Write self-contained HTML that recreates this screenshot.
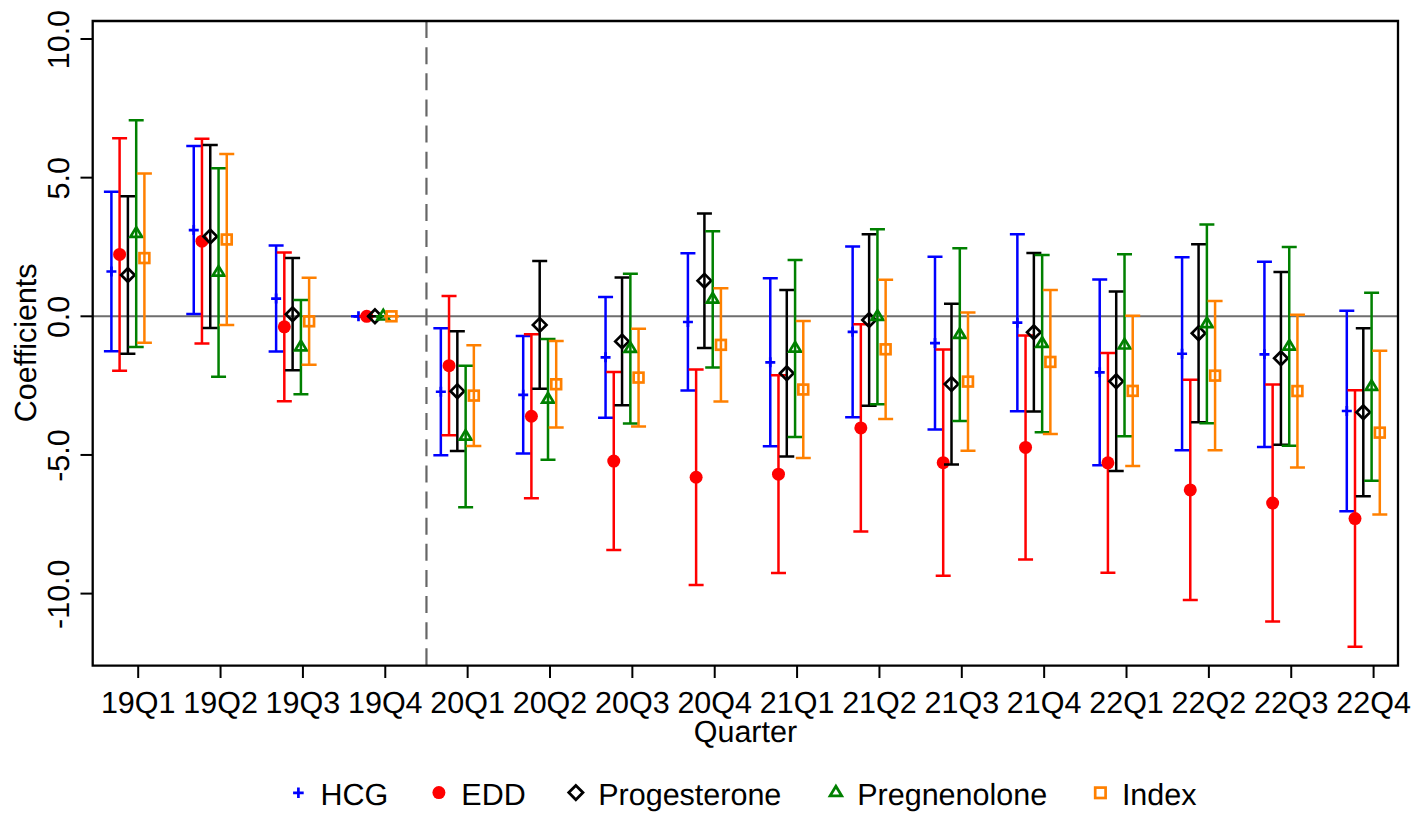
<!DOCTYPE html>
<html><head><meta charset="utf-8"><style>
html,body{margin:0;padding:0;background:#fff;}
svg{display:block;}
.t{font-family:"Liberation Sans",sans-serif;font-size:30.5px;fill:#000;text-rendering:geometricPrecision;}
</style></head><body>
<svg width="1417" height="822" viewBox="0 0 1417 822">
<rect width="1417" height="822" fill="#fff"/>
<line x1="92.7" y1="316.3" x2="1398.0" y2="316.3" stroke="#6e6e6e" stroke-width="2.1"/>
<line x1="426.46" y1="21.0" x2="426.46" y2="665.7" stroke="#666" stroke-width="2.2" stroke-dasharray="17 9.14"/>
<path d="M111.4 191.79V351.24M103.9 191.79H118.9M103.9 351.24H118.9" stroke="#0000ff" stroke-width="2.5" fill="none"/>
<path d="M193.76 146.04V314.08M186.26 146.04H201.26M186.26 314.08H201.26" stroke="#0000ff" stroke-width="2.5" fill="none"/>
<path d="M276.12 245.59V351.52M268.62 245.59H283.62M268.62 351.52H283.62" stroke="#0000ff" stroke-width="2.5" fill="none"/>
<path d="M350.98 316.3H365.98" stroke="#0000ff" stroke-width="2.5" fill="none"/>
<path d="M440.84 328.22V455.23M433.34 328.22H448.34M433.34 455.23H448.34" stroke="#0000ff" stroke-width="2.5" fill="none"/>
<path d="M523.2 335.99V453.56M515.7 335.99H530.7M515.7 453.56H530.7" stroke="#0000ff" stroke-width="2.5" fill="none"/>
<path d="M605.56 296.89V417.79M598.06 296.89H613.06M598.06 417.79H613.06" stroke="#0000ff" stroke-width="2.5" fill="none"/>
<path d="M687.92 253.35V390.62M680.42 253.35H695.42M680.42 390.62H695.42" stroke="#0000ff" stroke-width="2.5" fill="none"/>
<path d="M770.28 278.31V446.35M762.78 278.31H777.78M762.78 446.35H777.78" stroke="#0000ff" stroke-width="2.5" fill="none"/>
<path d="M852.64 246.42V417.24M845.14 246.42H860.14M845.14 417.24H860.14" stroke="#0000ff" stroke-width="2.5" fill="none"/>
<path d="M935 256.68V429.44M927.5 256.68H942.5M927.5 429.44H942.5" stroke="#0000ff" stroke-width="2.5" fill="none"/>
<path d="M1017.36 234.22V411.14M1009.86 234.22H1024.86M1009.86 411.14H1024.86" stroke="#0000ff" stroke-width="2.5" fill="none"/>
<path d="M1099.72 279.42V465.21M1092.22 279.42H1107.22M1092.22 465.21H1107.22" stroke="#0000ff" stroke-width="2.5" fill="none"/>
<path d="M1182.08 257.24V450.24M1174.58 257.24H1189.58M1174.58 450.24H1189.58" stroke="#0000ff" stroke-width="2.5" fill="none"/>
<path d="M1264.44 261.67V446.91M1256.94 261.67H1271.94M1256.94 446.91H1271.94" stroke="#0000ff" stroke-width="2.5" fill="none"/>
<path d="M1346.8 310.75V511.24M1339.3 310.75H1354.3M1339.3 511.24H1354.3" stroke="#0000ff" stroke-width="2.5" fill="none"/>
<path d="M106.4 271.52H116.4M111.4 266.52V276.52" stroke="#0000ff" stroke-width="2.7" fill="none"/>
<path d="M188.76 230.06H198.76M193.76 225.06V235.06" stroke="#0000ff" stroke-width="2.7" fill="none"/>
<path d="M271.12 298.55H281.12M276.12 293.55V303.55" stroke="#0000ff" stroke-width="2.7" fill="none"/>
<path d="M353.48 316.3H363.48M358.48 311.3V321.3" stroke="#0000ff" stroke-width="2.7" fill="none"/>
<path d="M435.84 391.73H445.84M440.84 386.73V396.73" stroke="#0000ff" stroke-width="2.7" fill="none"/>
<path d="M518.2 394.78H528.2M523.2 389.78V399.78" stroke="#0000ff" stroke-width="2.7" fill="none"/>
<path d="M600.56 357.34H610.56M605.56 352.34V362.34" stroke="#0000ff" stroke-width="2.7" fill="none"/>
<path d="M682.92 321.98H692.92M687.92 316.98V326.98" stroke="#0000ff" stroke-width="2.7" fill="none"/>
<path d="M765.28 362.33H775.28M770.28 357.33V367.33" stroke="#0000ff" stroke-width="2.7" fill="none"/>
<path d="M847.64 331.83H857.64M852.64 326.83V336.83" stroke="#0000ff" stroke-width="2.7" fill="none"/>
<path d="M930 343.06H940M935 338.06V348.06" stroke="#0000ff" stroke-width="2.7" fill="none"/>
<path d="M1012.36 322.68H1022.36M1017.36 317.68V327.68" stroke="#0000ff" stroke-width="2.7" fill="none"/>
<path d="M1094.72 372.31H1104.72M1099.72 367.31V377.31" stroke="#0000ff" stroke-width="2.7" fill="none"/>
<path d="M1177.08 353.74H1187.08M1182.08 348.74V358.74" stroke="#0000ff" stroke-width="2.7" fill="none"/>
<path d="M1259.44 354.29H1269.44M1264.44 349.29V359.29" stroke="#0000ff" stroke-width="2.7" fill="none"/>
<path d="M1341.8 411H1351.8M1346.8 406V416" stroke="#0000ff" stroke-width="2.7" fill="none"/>
<path d="M119.6 138.27V370.65M112.1 138.27H127.1M112.1 370.65H127.1" stroke="#ff0000" stroke-width="2.5" fill="none"/>
<path d="M201.96 138.83V343.48M194.46 138.83H209.46M194.46 343.48H209.46" stroke="#ff0000" stroke-width="2.5" fill="none"/>
<path d="M284.32 252.52V401.15M276.82 252.52H291.82M276.82 401.15H291.82" stroke="#ff0000" stroke-width="2.5" fill="none"/>
<path d="M359.18 316.3H374.18" stroke="#ff0000" stroke-width="2.5" fill="none"/>
<path d="M449.04 296.06V435.26M441.54 296.06H456.54M441.54 435.26H456.54" stroke="#ff0000" stroke-width="2.5" fill="none"/>
<path d="M531.4 334.32V498.21M523.9 334.32H538.9M523.9 498.21H538.9" stroke="#ff0000" stroke-width="2.5" fill="none"/>
<path d="M613.76 372.04V550.06M606.26 372.04H621.26M606.26 550.06H621.26" stroke="#ff0000" stroke-width="2.5" fill="none"/>
<path d="M696.12 369.54V585M688.62 369.54H703.62M688.62 585H703.62" stroke="#ff0000" stroke-width="2.5" fill="none"/>
<path d="M778.48 375.36V573.08M770.98 375.36H785.98M770.98 573.08H785.98" stroke="#ff0000" stroke-width="2.5" fill="none"/>
<path d="M860.84 324.34V531.48M853.34 324.34H868.34M853.34 531.48H868.34" stroke="#ff0000" stroke-width="2.5" fill="none"/>
<path d="M943.2 349.58V575.85M935.7 349.58H950.7M935.7 575.85H950.7" stroke="#ff0000" stroke-width="2.5" fill="none"/>
<path d="M1025.56 335.43V559.49M1018.06 335.43H1033.06M1018.06 559.49H1033.06" stroke="#ff0000" stroke-width="2.5" fill="none"/>
<path d="M1107.92 352.9V572.8M1100.42 352.9H1115.42M1100.42 572.8H1115.42" stroke="#ff0000" stroke-width="2.5" fill="none"/>
<path d="M1190.28 379.8V599.98M1182.78 379.8H1197.78M1182.78 599.98H1197.78" stroke="#ff0000" stroke-width="2.5" fill="none"/>
<path d="M1272.64 384.52V621.61M1265.14 384.52H1280.14M1265.14 621.61H1280.14" stroke="#ff0000" stroke-width="2.5" fill="none"/>
<path d="M1355 390.34V646.84M1347.5 390.34H1362.5M1347.5 646.84H1362.5" stroke="#ff0000" stroke-width="2.5" fill="none"/>
<circle cx="119.6" cy="254.46" r="6.5" fill="#ff0000"/>
<circle cx="201.96" cy="241.15" r="6.5" fill="#ff0000"/>
<circle cx="284.32" cy="326.84" r="6.5" fill="#ff0000"/>
<circle cx="366.68" cy="316.3" r="6.5" fill="#ff0000"/>
<circle cx="449.04" cy="365.66" r="6.5" fill="#ff0000"/>
<circle cx="531.4" cy="416.27" r="6.5" fill="#ff0000"/>
<circle cx="613.76" cy="461.05" r="6.5" fill="#ff0000"/>
<circle cx="696.12" cy="477.27" r="6.5" fill="#ff0000"/>
<circle cx="778.48" cy="474.22" r="6.5" fill="#ff0000"/>
<circle cx="860.84" cy="427.91" r="6.5" fill="#ff0000"/>
<circle cx="943.2" cy="462.71" r="6.5" fill="#ff0000"/>
<circle cx="1025.56" cy="447.46" r="6.5" fill="#ff0000"/>
<circle cx="1107.92" cy="462.85" r="6.5" fill="#ff0000"/>
<circle cx="1190.28" cy="489.89" r="6.5" fill="#ff0000"/>
<circle cx="1272.64" cy="503.06" r="6.5" fill="#ff0000"/>
<circle cx="1355" cy="518.59" r="6.5" fill="#ff0000"/>
<path d="M127.9 196.23V353.74M120.4 196.23H135.4M120.4 353.74H135.4" stroke="#000000" stroke-width="2.5" fill="none"/>
<path d="M210.26 144.93V327.95M202.76 144.93H217.76M202.76 327.95H217.76" stroke="#000000" stroke-width="2.5" fill="none"/>
<path d="M292.62 258.07V370.37M285.12 258.07H300.12M285.12 370.37H300.12" stroke="#000000" stroke-width="2.5" fill="none"/>
<path d="M367.48 316.3H382.48" stroke="#000000" stroke-width="2.5" fill="none"/>
<path d="M457.34 331.27V451.07M449.84 331.27H464.84M449.84 451.07H464.84" stroke="#000000" stroke-width="2.5" fill="none"/>
<path d="M539.7 261.12V388.68M532.2 261.12H547.2M532.2 388.68H547.2" stroke="#000000" stroke-width="2.5" fill="none"/>
<path d="M622.06 277.48V405.31M614.56 277.48H629.56M614.56 405.31H629.56" stroke="#000000" stroke-width="2.5" fill="none"/>
<path d="M704.42 213.42V347.91M696.92 213.42H711.92M696.92 347.91H711.92" stroke="#000000" stroke-width="2.5" fill="none"/>
<path d="M786.78 289.96V456.61M779.28 289.96H794.28M779.28 456.61H794.28" stroke="#000000" stroke-width="2.5" fill="none"/>
<path d="M869.14 234.22V405.87M861.64 234.22H876.64M861.64 405.87H876.64" stroke="#000000" stroke-width="2.5" fill="none"/>
<path d="M951.5 303.82V464.38M944 303.82H959M944 464.38H959" stroke="#000000" stroke-width="2.5" fill="none"/>
<path d="M1033.86 253.08V411.41M1026.36 253.08H1041.36M1026.36 411.41H1041.36" stroke="#000000" stroke-width="2.5" fill="none"/>
<path d="M1116.22 291.62V471.03M1108.72 291.62H1123.72M1108.72 471.03H1123.72" stroke="#000000" stroke-width="2.5" fill="none"/>
<path d="M1198.58 244.2V422.23M1191.08 244.2H1206.08M1191.08 422.23H1206.08" stroke="#000000" stroke-width="2.5" fill="none"/>
<path d="M1280.94 271.93V444.69M1273.44 271.93H1288.44M1273.44 444.69H1288.44" stroke="#000000" stroke-width="2.5" fill="none"/>
<path d="M1363.3 328.22V496.27M1355.8 328.22H1370.8M1355.8 496.27H1370.8" stroke="#000000" stroke-width="2.5" fill="none"/>
<path d="M127.9 268.18L134.7 274.98L127.9 281.78L121.1 274.98Z" stroke="#000000" stroke-width="2.7" fill="none" stroke-linejoin="miter"/>
<path d="M210.26 229.64L217.06 236.44L210.26 243.24L203.46 236.44Z" stroke="#000000" stroke-width="2.7" fill="none" stroke-linejoin="miter"/>
<path d="M292.62 307.42L299.42 314.22L292.62 321.02L285.82 314.22Z" stroke="#000000" stroke-width="2.7" fill="none" stroke-linejoin="miter"/>
<path d="M374.98 309.5L381.78 316.3L374.98 323.1L368.18 316.3Z" stroke="#000000" stroke-width="2.7" fill="none" stroke-linejoin="miter"/>
<path d="M457.34 384.37L464.14 391.17L457.34 397.97L450.54 391.17Z" stroke="#000000" stroke-width="2.7" fill="none" stroke-linejoin="miter"/>
<path d="M539.7 318.1L546.5 324.9L539.7 331.7L532.9 324.9Z" stroke="#000000" stroke-width="2.7" fill="none" stroke-linejoin="miter"/>
<path d="M622.06 334.6L628.86 341.4L622.06 348.2L615.26 341.4Z" stroke="#000000" stroke-width="2.7" fill="none" stroke-linejoin="miter"/>
<path d="M704.42 273.87L711.22 280.67L704.42 287.47L697.62 280.67Z" stroke="#000000" stroke-width="2.7" fill="none" stroke-linejoin="miter"/>
<path d="M786.78 366.49L793.58 373.29L786.78 380.09L779.98 373.29Z" stroke="#000000" stroke-width="2.7" fill="none" stroke-linejoin="miter"/>
<path d="M869.14 313.24L875.94 320.04L869.14 326.84L862.34 320.04Z" stroke="#000000" stroke-width="2.7" fill="none" stroke-linejoin="miter"/>
<path d="M951.5 377.3L958.3 384.1L951.5 390.9L944.7 384.1Z" stroke="#000000" stroke-width="2.7" fill="none" stroke-linejoin="miter"/>
<path d="M1033.86 325.44L1040.66 332.24L1033.86 339.04L1027.06 332.24Z" stroke="#000000" stroke-width="2.7" fill="none" stroke-linejoin="miter"/>
<path d="M1116.22 374.53L1123.02 381.33L1116.22 388.13L1109.42 381.33Z" stroke="#000000" stroke-width="2.7" fill="none" stroke-linejoin="miter"/>
<path d="M1198.58 326.42L1205.38 333.22L1198.58 340.02L1191.78 333.22Z" stroke="#000000" stroke-width="2.7" fill="none" stroke-linejoin="miter"/>
<path d="M1280.94 351.51L1287.74 358.31L1280.94 365.11L1274.14 358.31Z" stroke="#000000" stroke-width="2.7" fill="none" stroke-linejoin="miter"/>
<path d="M1363.3 405.45L1370.1 412.25L1363.3 419.05L1356.5 412.25Z" stroke="#000000" stroke-width="2.7" fill="none" stroke-linejoin="miter"/>
<path d="M136.2 120.25V347.08M128.7 120.25H143.7M128.7 347.08H143.7" stroke="#008000" stroke-width="2.5" fill="none"/>
<path d="M218.56 168.22V376.75M211.06 168.22H226.06M211.06 376.75H226.06" stroke="#008000" stroke-width="2.5" fill="none"/>
<path d="M300.92 299.94V394.22M293.42 299.94H308.42M293.42 394.22H308.42" stroke="#008000" stroke-width="2.5" fill="none"/>
<path d="M375.78 316.3H390.78" stroke="#008000" stroke-width="2.5" fill="none"/>
<path d="M465.64 365.66V507.36M458.14 365.66H473.14M458.14 507.36H473.14" stroke="#008000" stroke-width="2.5" fill="none"/>
<path d="M548 339.04V459.66M540.5 339.04H555.5M540.5 459.66H555.5" stroke="#008000" stroke-width="2.5" fill="none"/>
<path d="M630.36 273.87V423.62M622.86 273.87H637.86M622.86 423.62H637.86" stroke="#008000" stroke-width="2.5" fill="none"/>
<path d="M712.72 231.17V367.6M705.22 231.17H720.22M705.22 367.6H720.22" stroke="#008000" stroke-width="2.5" fill="none"/>
<path d="M795.08 260.01V436.93M787.58 260.01H802.58M787.58 436.93H802.58" stroke="#008000" stroke-width="2.5" fill="none"/>
<path d="M877.44 229.23V404.2M869.94 229.23H884.94M869.94 404.2H884.94" stroke="#008000" stroke-width="2.5" fill="none"/>
<path d="M959.8 248.36V421.12M952.3 248.36H967.3M952.3 421.12H967.3" stroke="#008000" stroke-width="2.5" fill="none"/>
<path d="M1042.16 255.02V432.21M1034.66 255.02H1049.66M1034.66 432.21H1049.66" stroke="#008000" stroke-width="2.5" fill="none"/>
<path d="M1124.52 254.18V436.37M1117.02 254.18H1132.02M1117.02 436.37H1132.02" stroke="#008000" stroke-width="2.5" fill="none"/>
<path d="M1206.88 224.51V423.34M1199.38 224.51H1214.38M1199.38 423.34H1214.38" stroke="#008000" stroke-width="2.5" fill="none"/>
<path d="M1289.24 246.98V445.8M1281.74 246.98H1296.74M1281.74 445.8H1296.74" stroke="#008000" stroke-width="2.5" fill="none"/>
<path d="M1371.6 292.73V480.74M1364.1 292.73H1379.1M1364.1 480.74H1379.1" stroke="#008000" stroke-width="2.5" fill="none"/>
<path d="M136.2 227.26L142 236.86L130.4 236.86Z" stroke="#008000" stroke-width="2.7" fill="none" stroke-linejoin="miter"/>
<path d="M218.56 266.09L224.36 275.69L212.76 275.69Z" stroke="#008000" stroke-width="2.7" fill="none" stroke-linejoin="miter"/>
<path d="M300.92 340.68L306.72 350.28L295.12 350.28Z" stroke="#008000" stroke-width="2.7" fill="none" stroke-linejoin="miter"/>
<path d="M383.28 309.9L389.08 319.5L377.48 319.5Z" stroke="#008000" stroke-width="2.7" fill="none" stroke-linejoin="miter"/>
<path d="M465.64 430.11L471.44 439.71L459.84 439.71Z" stroke="#008000" stroke-width="2.7" fill="none" stroke-linejoin="miter"/>
<path d="M548 392.95L553.8 402.55L542.2 402.55Z" stroke="#008000" stroke-width="2.7" fill="none" stroke-linejoin="miter"/>
<path d="M630.36 342.34L636.16 351.94L624.56 351.94Z" stroke="#008000" stroke-width="2.7" fill="none" stroke-linejoin="miter"/>
<path d="M712.72 292.98L718.52 302.58L706.92 302.58Z" stroke="#008000" stroke-width="2.7" fill="none" stroke-linejoin="miter"/>
<path d="M795.08 342.07L800.88 351.67L789.28 351.67Z" stroke="#008000" stroke-width="2.7" fill="none" stroke-linejoin="miter"/>
<path d="M877.44 310.32L883.24 319.92L871.64 319.92Z" stroke="#008000" stroke-width="2.7" fill="none" stroke-linejoin="miter"/>
<path d="M959.8 328.34L965.6 337.94L954 337.94Z" stroke="#008000" stroke-width="2.7" fill="none" stroke-linejoin="miter"/>
<path d="M1042.16 337.21L1047.96 346.81L1036.36 346.81Z" stroke="#008000" stroke-width="2.7" fill="none" stroke-linejoin="miter"/>
<path d="M1124.52 338.88L1130.32 348.48L1118.72 348.48Z" stroke="#008000" stroke-width="2.7" fill="none" stroke-linejoin="miter"/>
<path d="M1206.88 317.53L1212.68 327.13L1201.08 327.13Z" stroke="#008000" stroke-width="2.7" fill="none" stroke-linejoin="miter"/>
<path d="M1289.24 339.99L1295.04 349.59L1283.44 349.59Z" stroke="#008000" stroke-width="2.7" fill="none" stroke-linejoin="miter"/>
<path d="M1371.6 380.33L1377.4 389.93L1365.8 389.93Z" stroke="#008000" stroke-width="2.7" fill="none" stroke-linejoin="miter"/>
<path d="M144.4 173.49V342.64M136.9 173.49H151.9M136.9 342.64H151.9" stroke="#ff8000" stroke-width="2.5" fill="none"/>
<path d="M226.76 154.08V324.9M219.26 154.08H234.26M219.26 324.9H234.26" stroke="#ff8000" stroke-width="2.5" fill="none"/>
<path d="M309.12 277.76V364.83M301.62 277.76H316.62M301.62 364.83H316.62" stroke="#ff8000" stroke-width="2.5" fill="none"/>
<path d="M383.98 316.3H398.98" stroke="#ff8000" stroke-width="2.5" fill="none"/>
<path d="M473.84 345.14V446.08M466.34 345.14H481.34M466.34 446.08H481.34" stroke="#ff8000" stroke-width="2.5" fill="none"/>
<path d="M556.2 340.98V427.5M548.7 340.98H563.7M548.7 427.5H563.7" stroke="#ff8000" stroke-width="2.5" fill="none"/>
<path d="M638.56 328.78V426.39M631.06 328.78H646.06M631.06 426.39H646.06" stroke="#ff8000" stroke-width="2.5" fill="none"/>
<path d="M720.92 288.29V401.43M713.42 288.29H728.42M713.42 401.43H728.42" stroke="#ff8000" stroke-width="2.5" fill="none"/>
<path d="M803.28 321.01V458M795.78 321.01H810.78M795.78 458H810.78" stroke="#ff8000" stroke-width="2.5" fill="none"/>
<path d="M885.64 279.7V418.9M878.14 279.7H893.14M878.14 418.9H893.14" stroke="#ff8000" stroke-width="2.5" fill="none"/>
<path d="M968 312.42V450.79M960.5 312.42H975.5M960.5 450.79H975.5" stroke="#ff8000" stroke-width="2.5" fill="none"/>
<path d="M1050.36 289.96V433.88M1042.86 289.96H1057.86M1042.86 433.88H1057.86" stroke="#ff8000" stroke-width="2.5" fill="none"/>
<path d="M1132.72 315.75V466.04M1125.22 315.75H1140.22M1125.22 466.04H1140.22" stroke="#ff8000" stroke-width="2.5" fill="none"/>
<path d="M1215.08 301.05V450.24M1207.58 301.05H1222.58M1207.58 450.24H1222.58" stroke="#ff8000" stroke-width="2.5" fill="none"/>
<path d="M1297.44 314.64V467.43M1289.94 314.64H1304.94M1289.94 467.43H1304.94" stroke="#ff8000" stroke-width="2.5" fill="none"/>
<path d="M1379.8 350.69V514.57M1372.3 350.69H1387.3M1372.3 514.57H1387.3" stroke="#ff8000" stroke-width="2.5" fill="none"/>
<rect x="139.5" y="253.17" width="9.8" height="9.8" stroke="#ff8000" stroke-width="2.7" fill="none"/>
<rect x="221.86" y="234.59" width="9.8" height="9.8" stroke="#ff8000" stroke-width="2.7" fill="none"/>
<rect x="304.22" y="316.39" width="9.8" height="9.8" stroke="#ff8000" stroke-width="2.7" fill="none"/>
<rect x="386.58" y="311.4" width="9.8" height="9.8" stroke="#ff8000" stroke-width="2.7" fill="none"/>
<rect x="468.94" y="390.71" width="9.8" height="9.8" stroke="#ff8000" stroke-width="2.7" fill="none"/>
<rect x="551.3" y="379.34" width="9.8" height="9.8" stroke="#ff8000" stroke-width="2.7" fill="none"/>
<rect x="633.66" y="372.68" width="9.8" height="9.8" stroke="#ff8000" stroke-width="2.7" fill="none"/>
<rect x="716.02" y="339.96" width="9.8" height="9.8" stroke="#ff8000" stroke-width="2.7" fill="none"/>
<rect x="798.38" y="384.61" width="9.8" height="9.8" stroke="#ff8000" stroke-width="2.7" fill="none"/>
<rect x="880.74" y="344.4" width="9.8" height="9.8" stroke="#ff8000" stroke-width="2.7" fill="none"/>
<rect x="963.1" y="376.7" width="9.8" height="9.8" stroke="#ff8000" stroke-width="2.7" fill="none"/>
<rect x="1045.46" y="357.02" width="9.8" height="9.8" stroke="#ff8000" stroke-width="2.7" fill="none"/>
<rect x="1127.82" y="385.99" width="9.8" height="9.8" stroke="#ff8000" stroke-width="2.7" fill="none"/>
<rect x="1210.18" y="370.74" width="9.8" height="9.8" stroke="#ff8000" stroke-width="2.7" fill="none"/>
<rect x="1292.54" y="386.13" width="9.8" height="9.8" stroke="#ff8000" stroke-width="2.7" fill="none"/>
<rect x="1374.9" y="427.73" width="9.8" height="9.8" stroke="#ff8000" stroke-width="2.7" fill="none"/>
<path d="M92.7 21.0H1398.0V665.7H92.7Z" stroke="#000" stroke-width="2.3" fill="none"/>
<line x1="80.5" y1="39" x2="92.7" y2="39" stroke="#000" stroke-width="2"/>
<text x="0" y="0" transform="translate(68.5 39.6) rotate(-90) scale(1 1)" text-anchor="middle" class="t">10.0</text>
<line x1="80.5" y1="177.65" x2="92.7" y2="177.65" stroke="#000" stroke-width="2"/>
<text x="0" y="0" transform="translate(68.5 178.25) rotate(-90) scale(1 1)" text-anchor="middle" class="t">5.0</text>
<line x1="80.5" y1="316.3" x2="92.7" y2="316.3" stroke="#000" stroke-width="2"/>
<text x="0" y="0" transform="translate(68.5 316.9) rotate(-90) scale(1 1)" text-anchor="middle" class="t">0.0</text>
<line x1="80.5" y1="454.95" x2="92.7" y2="454.95" stroke="#000" stroke-width="2"/>
<text x="0" y="0" transform="translate(68.5 455.55) rotate(-90) scale(1 1)" text-anchor="middle" class="t">-5.0</text>
<line x1="80.5" y1="593.6" x2="92.7" y2="593.6" stroke="#000" stroke-width="2"/>
<text x="0" y="0" transform="translate(68.5 594.2) rotate(-90) scale(1 1)" text-anchor="middle" class="t">-10.0</text>
<line x1="138.2" y1="665.7" x2="138.2" y2="678" stroke="#000" stroke-width="2"/>
<text x="0" y="0" transform="translate(138.2 712.8) scale(1 1)" text-anchor="middle" class="t">19Q1</text>
<line x1="220.56" y1="665.7" x2="220.56" y2="678" stroke="#000" stroke-width="2"/>
<text x="0" y="0" transform="translate(220.56 712.8) scale(1 1)" text-anchor="middle" class="t">19Q2</text>
<line x1="302.92" y1="665.7" x2="302.92" y2="678" stroke="#000" stroke-width="2"/>
<text x="0" y="0" transform="translate(302.92 712.8) scale(1 1)" text-anchor="middle" class="t">19Q3</text>
<line x1="385.28" y1="665.7" x2="385.28" y2="678" stroke="#000" stroke-width="2"/>
<text x="0" y="0" transform="translate(385.28 712.8) scale(1 1)" text-anchor="middle" class="t">19Q4</text>
<line x1="467.64" y1="665.7" x2="467.64" y2="678" stroke="#000" stroke-width="2"/>
<text x="0" y="0" transform="translate(467.64 712.8) scale(1 1)" text-anchor="middle" class="t">20Q1</text>
<line x1="550" y1="665.7" x2="550" y2="678" stroke="#000" stroke-width="2"/>
<text x="0" y="0" transform="translate(550 712.8) scale(1 1)" text-anchor="middle" class="t">20Q2</text>
<line x1="632.36" y1="665.7" x2="632.36" y2="678" stroke="#000" stroke-width="2"/>
<text x="0" y="0" transform="translate(632.36 712.8) scale(1 1)" text-anchor="middle" class="t">20Q3</text>
<line x1="714.72" y1="665.7" x2="714.72" y2="678" stroke="#000" stroke-width="2"/>
<text x="0" y="0" transform="translate(714.72 712.8) scale(1 1)" text-anchor="middle" class="t">20Q4</text>
<line x1="797.08" y1="665.7" x2="797.08" y2="678" stroke="#000" stroke-width="2"/>
<text x="0" y="0" transform="translate(797.08 712.8) scale(1 1)" text-anchor="middle" class="t">21Q1</text>
<line x1="879.44" y1="665.7" x2="879.44" y2="678" stroke="#000" stroke-width="2"/>
<text x="0" y="0" transform="translate(879.44 712.8) scale(1 1)" text-anchor="middle" class="t">21Q2</text>
<line x1="961.8" y1="665.7" x2="961.8" y2="678" stroke="#000" stroke-width="2"/>
<text x="0" y="0" transform="translate(961.8 712.8) scale(1 1)" text-anchor="middle" class="t">21Q3</text>
<line x1="1044.16" y1="665.7" x2="1044.16" y2="678" stroke="#000" stroke-width="2"/>
<text x="0" y="0" transform="translate(1044.16 712.8) scale(1 1)" text-anchor="middle" class="t">21Q4</text>
<line x1="1126.52" y1="665.7" x2="1126.52" y2="678" stroke="#000" stroke-width="2"/>
<text x="0" y="0" transform="translate(1126.52 712.8) scale(1 1)" text-anchor="middle" class="t">22Q1</text>
<line x1="1208.88" y1="665.7" x2="1208.88" y2="678" stroke="#000" stroke-width="2"/>
<text x="0" y="0" transform="translate(1208.88 712.8) scale(1 1)" text-anchor="middle" class="t">22Q2</text>
<line x1="1291.24" y1="665.7" x2="1291.24" y2="678" stroke="#000" stroke-width="2"/>
<text x="0" y="0" transform="translate(1291.24 712.8) scale(1 1)" text-anchor="middle" class="t">22Q3</text>
<line x1="1373.6" y1="665.7" x2="1373.6" y2="678" stroke="#000" stroke-width="2"/>
<text x="0" y="0" transform="translate(1373.6 712.8) scale(1 1)" text-anchor="middle" class="t">22Q4</text>
<text x="0" y="0" transform="translate(745.4 742) scale(1 1)" text-anchor="middle" class="t">Quarter</text>
<text x="0" y="0" transform="translate(36.3 342.8) rotate(-90) scale(1 1)" text-anchor="middle" class="t">Coefficients</text>
<path d="M293.1 792.8H303.7M298.4 787.5V798.1" stroke="#0000ff" stroke-width="2.7" fill="none"/>
<text x="0" y="0" transform="translate(320.4 804.6) scale(1 1)" class="t">HCG</text>
<circle cx="438.9" cy="792.6" r="6.5" fill="#ff0000"/>
<text x="0" y="0" transform="translate(461.3 804.6) scale(1 1)" class="t">EDD</text>
<path d="M575.85 785.5L582.95 792.6L575.85 799.7L568.75 792.6Z" stroke="#000000" stroke-width="2.8" fill="none" stroke-linejoin="miter"/>
<text x="0" y="0" transform="translate(598.2 804.6) scale(1 1)" class="t">Progesterone</text>
<path d="M835.9 786.2L841.7 795.8L830.1 795.8Z" stroke="#008000" stroke-width="2.8" fill="none" stroke-linejoin="miter"/>
<text x="0" y="0" transform="translate(857.2 804.6) scale(1 1)" class="t">Pregnenolone</text>
<rect x="1095.2" y="787.6" width="10.4" height="10.4" stroke="#ff8000" stroke-width="2.7" fill="none"/>
<text x="0" y="0" transform="translate(1121.9 804.6) scale(1 1)" class="t">Index</text>
</svg>
</body></html>
